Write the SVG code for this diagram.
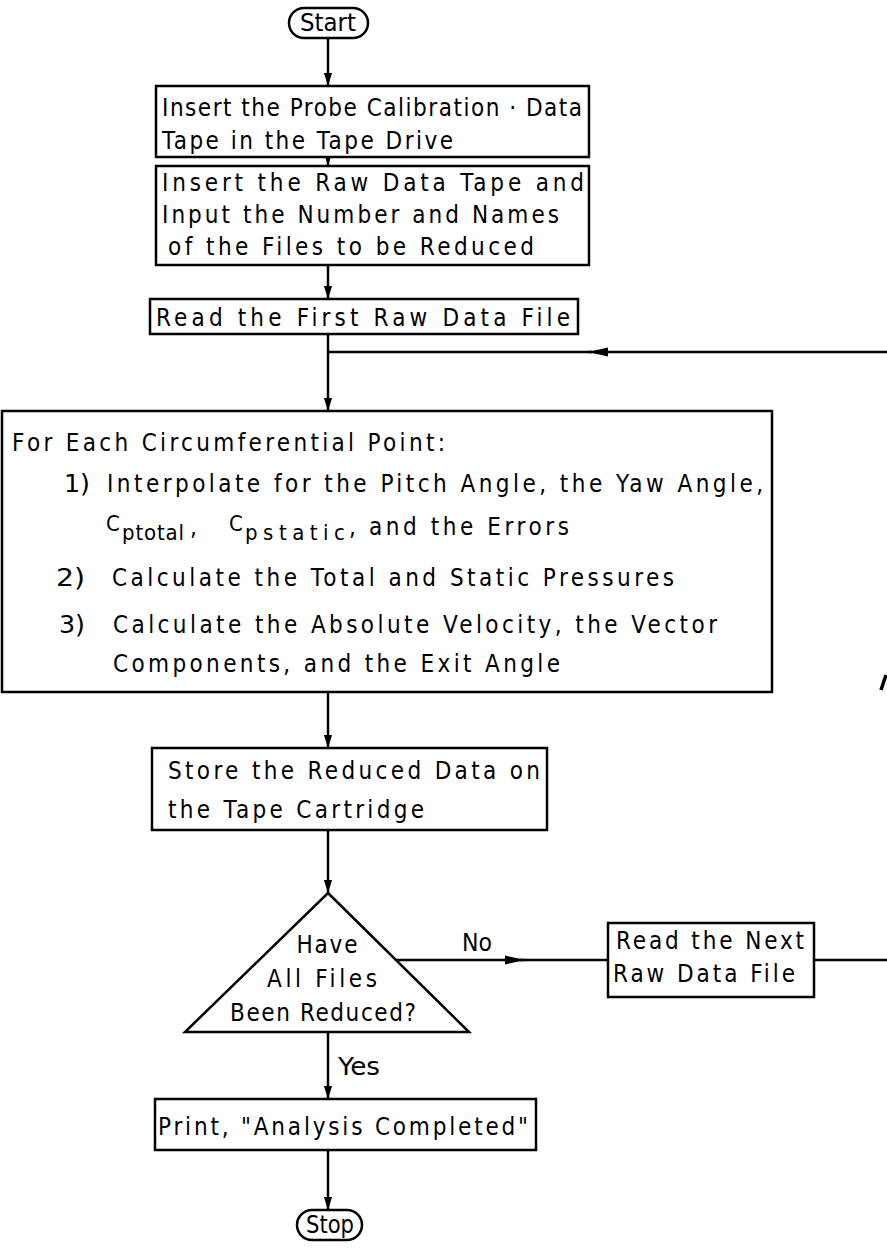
<svg xmlns="http://www.w3.org/2000/svg" width="887" height="1253" viewBox="0 0 887 1253">
<style>
.b{fill:#fff;stroke:#000;stroke-width:2.5}
.c{fill:none;stroke:#000;stroke-width:2.5}
.ca{fill:none;stroke:#000;stroke-width:2.5;marker-end:url(#ah)}
.ch{fill:none;stroke:#000;stroke-width:2.5;marker-end:url(#ahh)}
text{font-family:"DejaVu Sans Condensed","DejaVu Sans","Liberation Sans",sans-serif;font-size:24px;fill:#000}
.m{text-anchor:middle}
.s{font-size:22px}
</style>
<defs>
<marker id="ah" viewBox="0 0 10 10" refX="10" refY="5" markerWidth="13" markerHeight="9" markerUnits="userSpaceOnUse" orient="auto" preserveAspectRatio="none"><path d="M0,0.5 L10,5 L0,9.5 z" fill="#000"/></marker>
<marker id="ahh" viewBox="0 0 10 10" refX="10" refY="5" markerWidth="20" markerHeight="10" markerUnits="userSpaceOnUse" orient="auto" preserveAspectRatio="none"><path d="M0,0.5 L10,5 L0,9.5 z" fill="#000"/></marker>
</defs>
<rect width="887" height="1253" fill="#fff"/>
<g id="connectors">
<path class="ca" d="M328,38 V86"/>
<path class="ca" d="M328,157 V166"/>
<path class="ca" d="M328,265 V299"/>
<path class="ca" d="M328,334 V411"/>
<path class="ch" d="M887,352 H588"/>
<path class="c" d="M592,352 H328"/>
<path class="ca" d="M328,692 V748"/>
<path class="ca" d="M328,830 V893"/>
<path class="ch" d="M395,960 H525"/>
<path class="c" d="M520,960 H608"/>
<path class="c" d="M814,960 H887"/>
<path class="ca" d="M328,1032 V1099"/>
<path class="ca" d="M328,1150 V1210"/>
<text x="462" y="951" textLength="30" lengthAdjust="spacingAndGlyphs">No</text>
<text x="338" y="1075" textLength="42" lengthAdjust="spacingAndGlyphs">Yes</text>
</g>
<g id="start">
<rect class="b" x="289" y="8" width="79" height="30" rx="15"/>
<text class="m" x="328" y="31" textLength="56" lengthAdjust="spacingAndGlyphs">Start</text>
</g>
<g id="box1">
<rect class="b" x="156" y="86" width="433" height="71"/>
<text x="162" y="116" textLength="420" lengthAdjust="spacing">Insert the Probe Calibration · Data</text>
<text x="162" y="149" textLength="291" lengthAdjust="spacing">Tape in the Tape Drive</text>
</g>
<g id="box2">
<rect class="b" x="156" y="166" width="433" height="99"/>
<text x="162" y="191" textLength="422" lengthAdjust="spacing">Insert the Raw Data Tape and</text>
<text x="162" y="223" textLength="397" lengthAdjust="spacing">Input the Number and Names</text>
<text x="168" y="255" textLength="366" lengthAdjust="spacing">of the Files to be Reduced</text>
</g>
<g id="box3">
<rect class="b" x="150" y="299" width="428" height="35"/>
<text x="156" y="326" textLength="414" lengthAdjust="spacing">Read the First Raw Data File</text>
</g>
<g id="box4">
<rect class="b" x="2" y="411" width="770" height="281"/>
<text x="12" y="451" textLength="433" lengthAdjust="spacing">For Each Circumferential Point:</text>
<text x="64" y="492" textLength="26" lengthAdjust="spacingAndGlyphs">1)</text>
<text x="107" y="492" textLength="656" lengthAdjust="spacing">Interpolate for the Pitch Angle, the Yaw Angle,</text>
<text y="533"><tspan class="s" x="106" y="531">C</tspan><tspan class="s" x="122" y="540" textLength="62" lengthAdjust="spacing">ptotal</tspan><tspan x="190" y="535">,</tspan><tspan class="s" x="229" y="531">C</tspan><tspan class="s" x="245" y="540" textLength="100" lengthAdjust="spacing">pstatic</tspan><tspan x="349" y="535">,</tspan><tspan x="369" y="535" textLength="200" lengthAdjust="spacing">and the Errors</tspan></text>
<text x="56" y="586" textLength="29" lengthAdjust="spacingAndGlyphs">2)</text>
<text x="112" y="586" textLength="562" lengthAdjust="spacing">Calculate the Total and Static Pressures</text>
<text x="59" y="633" textLength="26" lengthAdjust="spacingAndGlyphs">3)</text>
<text x="113" y="633" textLength="604" lengthAdjust="spacing">Calculate the Absolute Velocity, the Vector</text>
<text x="113" y="672" textLength="447" lengthAdjust="spacing">Components, and the Exit Angle</text>
</g>
<path d="M881,690 L886,675" stroke="#000" stroke-width="3.5"/>
<g id="box5">
<rect class="b" x="152" y="748" width="395" height="82"/>
<text x="168" y="779" textLength="372" lengthAdjust="spacing">Store the Reduced Data on</text>
<text x="168" y="818" textLength="256" lengthAdjust="spacing">the Tape Cartridge</text>
</g>
<g id="decision">
<path class="b" d="M328,893 L469,1032 L185,1032 Z"/>
<text class="m" x="327" y="953" textLength="61" lengthAdjust="spacing">Have</text>
<text class="m" x="322" y="987" textLength="110" lengthAdjust="spacing">All Files</text>
<text class="m" x="323" y="1021" textLength="186" lengthAdjust="spacing">Been Reduced?</text>
</g>
<g id="box6">
<rect class="b" x="608" y="923" width="206" height="74"/>
<text x="616" y="949" textLength="188" lengthAdjust="spacing">Read the Next</text>
<text x="613" y="982" textLength="182" lengthAdjust="spacing">Raw Data File</text>
</g>
<g id="box7">
<rect class="b" x="155" y="1099" width="381" height="51"/>
<text x="158" y="1135" textLength="370" lengthAdjust="spacing">Print, "Analysis Completed"</text>
</g>
<g id="stop">
<rect class="b" x="297" y="1210" width="65" height="30" rx="15"/>
<text class="m" x="330" y="1233" textLength="48" lengthAdjust="spacingAndGlyphs">Stop</text>
</g>
</svg>
